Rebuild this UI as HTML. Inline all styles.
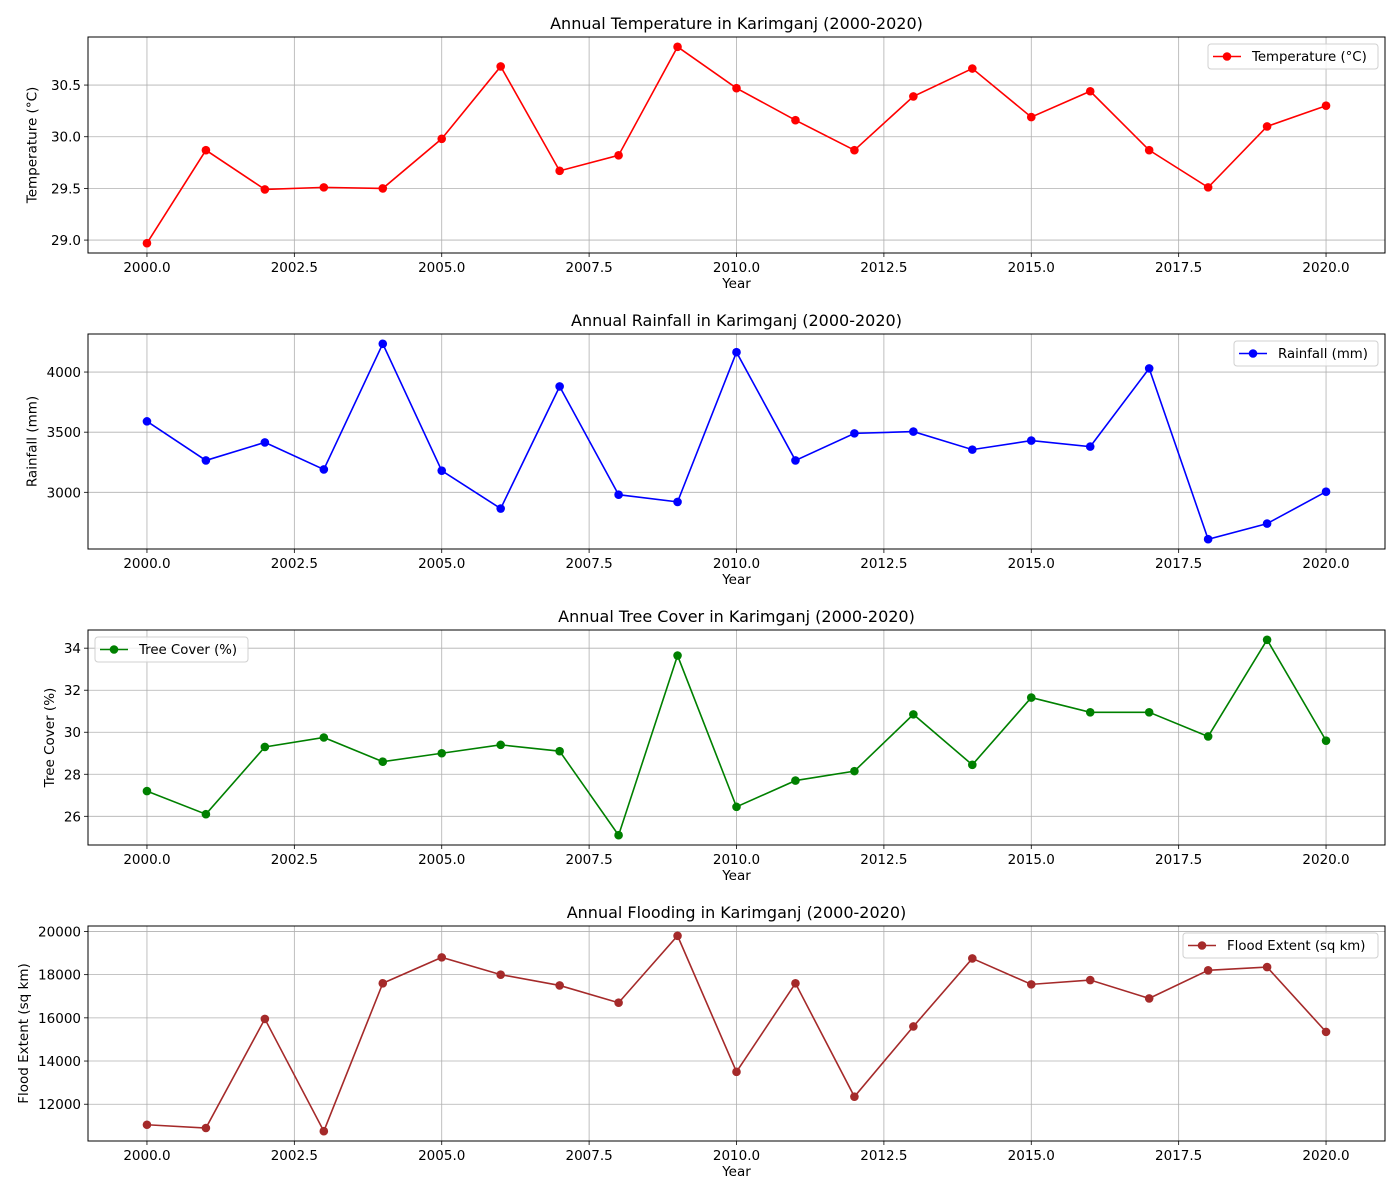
<!DOCTYPE html>
<html><head><meta charset="utf-8">
<style>
html,body{margin:0;padding:0;background:#fff;}
svg{display:block;font-family:"DejaVu Sans","Liberation Sans",sans-serif;}
</style></head>
<body>
<svg id="chart" width="1400" height="1200" xmlns="http://www.w3.org/2000/svg"></svg>
<script>
const years = [2000,2001,2002,2003,2004,2005,2006,2007,2008,2009,2010,2011,2012,2013,2014,2015,2016,2017,2018,2019,2020];
const xTickLabels = ["2000.0","2002.5","2005.0","2007.5","2010.0","2012.5","2015.0","2017.5","2020.0"];
const xTickValues = [2000,2002.5,2005,2007.5,2010,2012.5,2015,2017.5,2020];
const temperature = [28.97,29.87,29.49,29.51,29.50,29.98,30.68,29.67,29.82,30.87,30.47,30.16,29.87,30.39,30.66,30.19,30.44,29.87,29.51,30.10,30.30];
const tempTicks = [29.0,29.5,30.0,30.5];
const tempTickLabels = ["29.0","29.5","30.0","30.5"];
const rainfall = [3590,3265,3415,3190,4235,3180,2865,3880,2980,2920,4165,3265,3490,3505,3355,3430,3380,4030,2610,2740,3005];
const rainTicks = [3000,3500,4000];
const rainTickLabels = ["3000","3500","4000"];
const treeCover = [27.2,26.1,29.3,29.75,28.6,29.0,29.4,29.1,25.1,33.65,26.45,27.7,28.15,30.85,28.45,31.65,30.95,30.95,29.8,34.4,29.6];
const treeTicks = [26,28,30,32,34];
const treeTickLabels = ["26","28","30","32","34"];
const flood = [11050,10900,15950,10750,17600,18800,18000,17500,16700,19800,13500,17600,12350,15600,18750,17550,17750,16900,18200,18350,15350];
const floodTicks = [12000,14000,16000,18000,20000];
const floodTickLabels = ["12000","14000","16000","18000","20000"];

const svg = document.getElementById('chart');
const NS = "http://www.w3.org/2000/svg";
function mk(tag, attrs, parent){const e=document.createElementNS(NS,tag);for(const k in attrs)e.setAttribute(k,attrs[k]);(parent||svg).appendChild(e);return e;}

const L=88,R=1385;
const xmin=2000-1, xmax=2020+1;
function xs(v){return L+(v-xmin)/(xmax-xmin)*(R-L);}

const panels=[
 {key:'temperature',data:temperature,ticks:tempTicks,labels:tempTickLabels,top:37,bot:253,color:'#ff0000',title:'Annual Temperature in Karimganj (2000-2020)',ylabel:'Temperature (°C)',leg:'Temperature (°C)',legX:1208,legW:170,legY:44},
 {key:'rainfall',data:rainfall,ticks:rainTicks,labels:rainTickLabels,top:334,bot:549,color:'#0000ff',title:'Annual Rainfall in Karimganj (2000-2020)',ylabel:'Rainfall (mm)',leg:'Rainfall (mm)',legX:1234,legW:144,legY:341},
 {key:'tree-cover',data:treeCover,ticks:treeTicks,labels:treeTickLabels,top:630,bot:845,color:'#008000',title:'Annual Tree Cover in Karimganj (2000-2020)',ylabel:'Tree Cover (%)',leg:'Tree Cover (%)',legX:95,legW:153,legY:637},
 {key:'flood',data:flood,ticks:floodTicks,labels:floodTickLabels,top:926,bot:1141,color:'#a52a2a',title:'Annual Flooding in Karimganj (2000-2020)',ylabel:'Flood Extent (sq km)',leg:'Flood Extent (sq km)',legX:1183,legW:195,legY:933}
];

panels.forEach(p=>{
  const g=mk('g',{});
  
  
  let mn=Math.min(...p.data), mx=Math.max(...p.data), pad=(mx-mn)*0.05;
  const y0=mn-pad, y1=mx+pad;
  const ys=v=>p.bot-(v-y0)/(y1-y0)*(p.bot-p.top);
  xTickValues.forEach((t,i)=>{
    const x=xs(t);
    mk('line',{x1:x,x2:x,y1:p.top,y2:p.bot,stroke:'#b0b0b0','stroke-width':0.8},g);
    mk('line',{x1:x,x2:x,y1:p.bot,y2:p.bot+4,stroke:'#000','stroke-width':0.8},g);
    const t2=mk('text',{x:x,y:p.bot+19,'text-anchor':'middle','font-size':13.5,fill:'#000'},g);
    t2.textContent=xTickLabels[i];
    
    
  });
  p.ticks.forEach((t,i)=>{
    const y=ys(t);
    mk('line',{x1:L,x2:R,y1:y,y2:y,stroke:'#b0b0b0','stroke-width':0.8},g);
    mk('line',{x1:L-4,x2:L,y1:y,y2:y,stroke:'#000','stroke-width':0.8},g);
    const t2=mk('text',{x:L-7,y:y+5,'text-anchor':'end','font-size':13.5,fill:'#000'},g);
    t2.textContent=p.labels[i];
    
    
  });
  const pts=p.data.map((v,i)=>xs(years[i])+','+ys(v)).join(' ');
  const pl=mk('polyline',{points:pts,fill:'none',stroke:p.color,'stroke-width':1.6},g);
  
  
  p.data.forEach((v,i)=>{
    const c=mk('circle',{cx:xs(years[i]),cy:ys(v),r:4.3,fill:p.color},g);
    
    
  });
  mk('rect',{x:L,y:p.top,width:R-L,height:p.bot-p.top,fill:'none',stroke:'#000','stroke-width':1},g);
  const ti=mk('text',{x:(L+R)/2,y:p.top-8,'text-anchor':'middle','font-size':16,fill:'#000'},g);
  ti.textContent=p.title;
  
  
  const xl=mk('text',{x:(L+R)/2,y:p.bot+35,'text-anchor':'middle','font-size':13.5,fill:'#000'},g);
  xl.textContent='Year';
  
  
  const cy=(p.top+p.bot)/2;
  const maxLab=Math.max(...p.labels.map(s=>s.length));
  const lx=L-17-maxLab*8.6;
  const yl=mk('text',{x:lx,y:cy,'text-anchor':'middle','font-size':13.5,fill:'#000',transform:`rotate(-90 ${lx} ${cy})`},g);
  yl.textContent=p.ylabel;
  
  
  const lg=mk('g',{},g);
  
  
  mk('rect',{x:p.legX,y:p.legY,width:p.legW,height:25,rx:3,fill:'#fff','fill-opacity':0.8,stroke:'#d0d0d0','stroke-width':1},lg);
  const my=p.legY+12.5;
  mk('line',{x1:p.legX+5,x2:p.legX+33,y1:my,y2:my,stroke:p.color,'stroke-width':1.6},lg);
  mk('circle',{cx:p.legX+19,cy:my,r:4.3,fill:p.color},lg);
  const lt=mk('text',{x:p.legX+44,y:my+4.5,'font-size':13.3,fill:'#000'},lg);
  lt.textContent=p.leg;
});
</script>
</body></html>
